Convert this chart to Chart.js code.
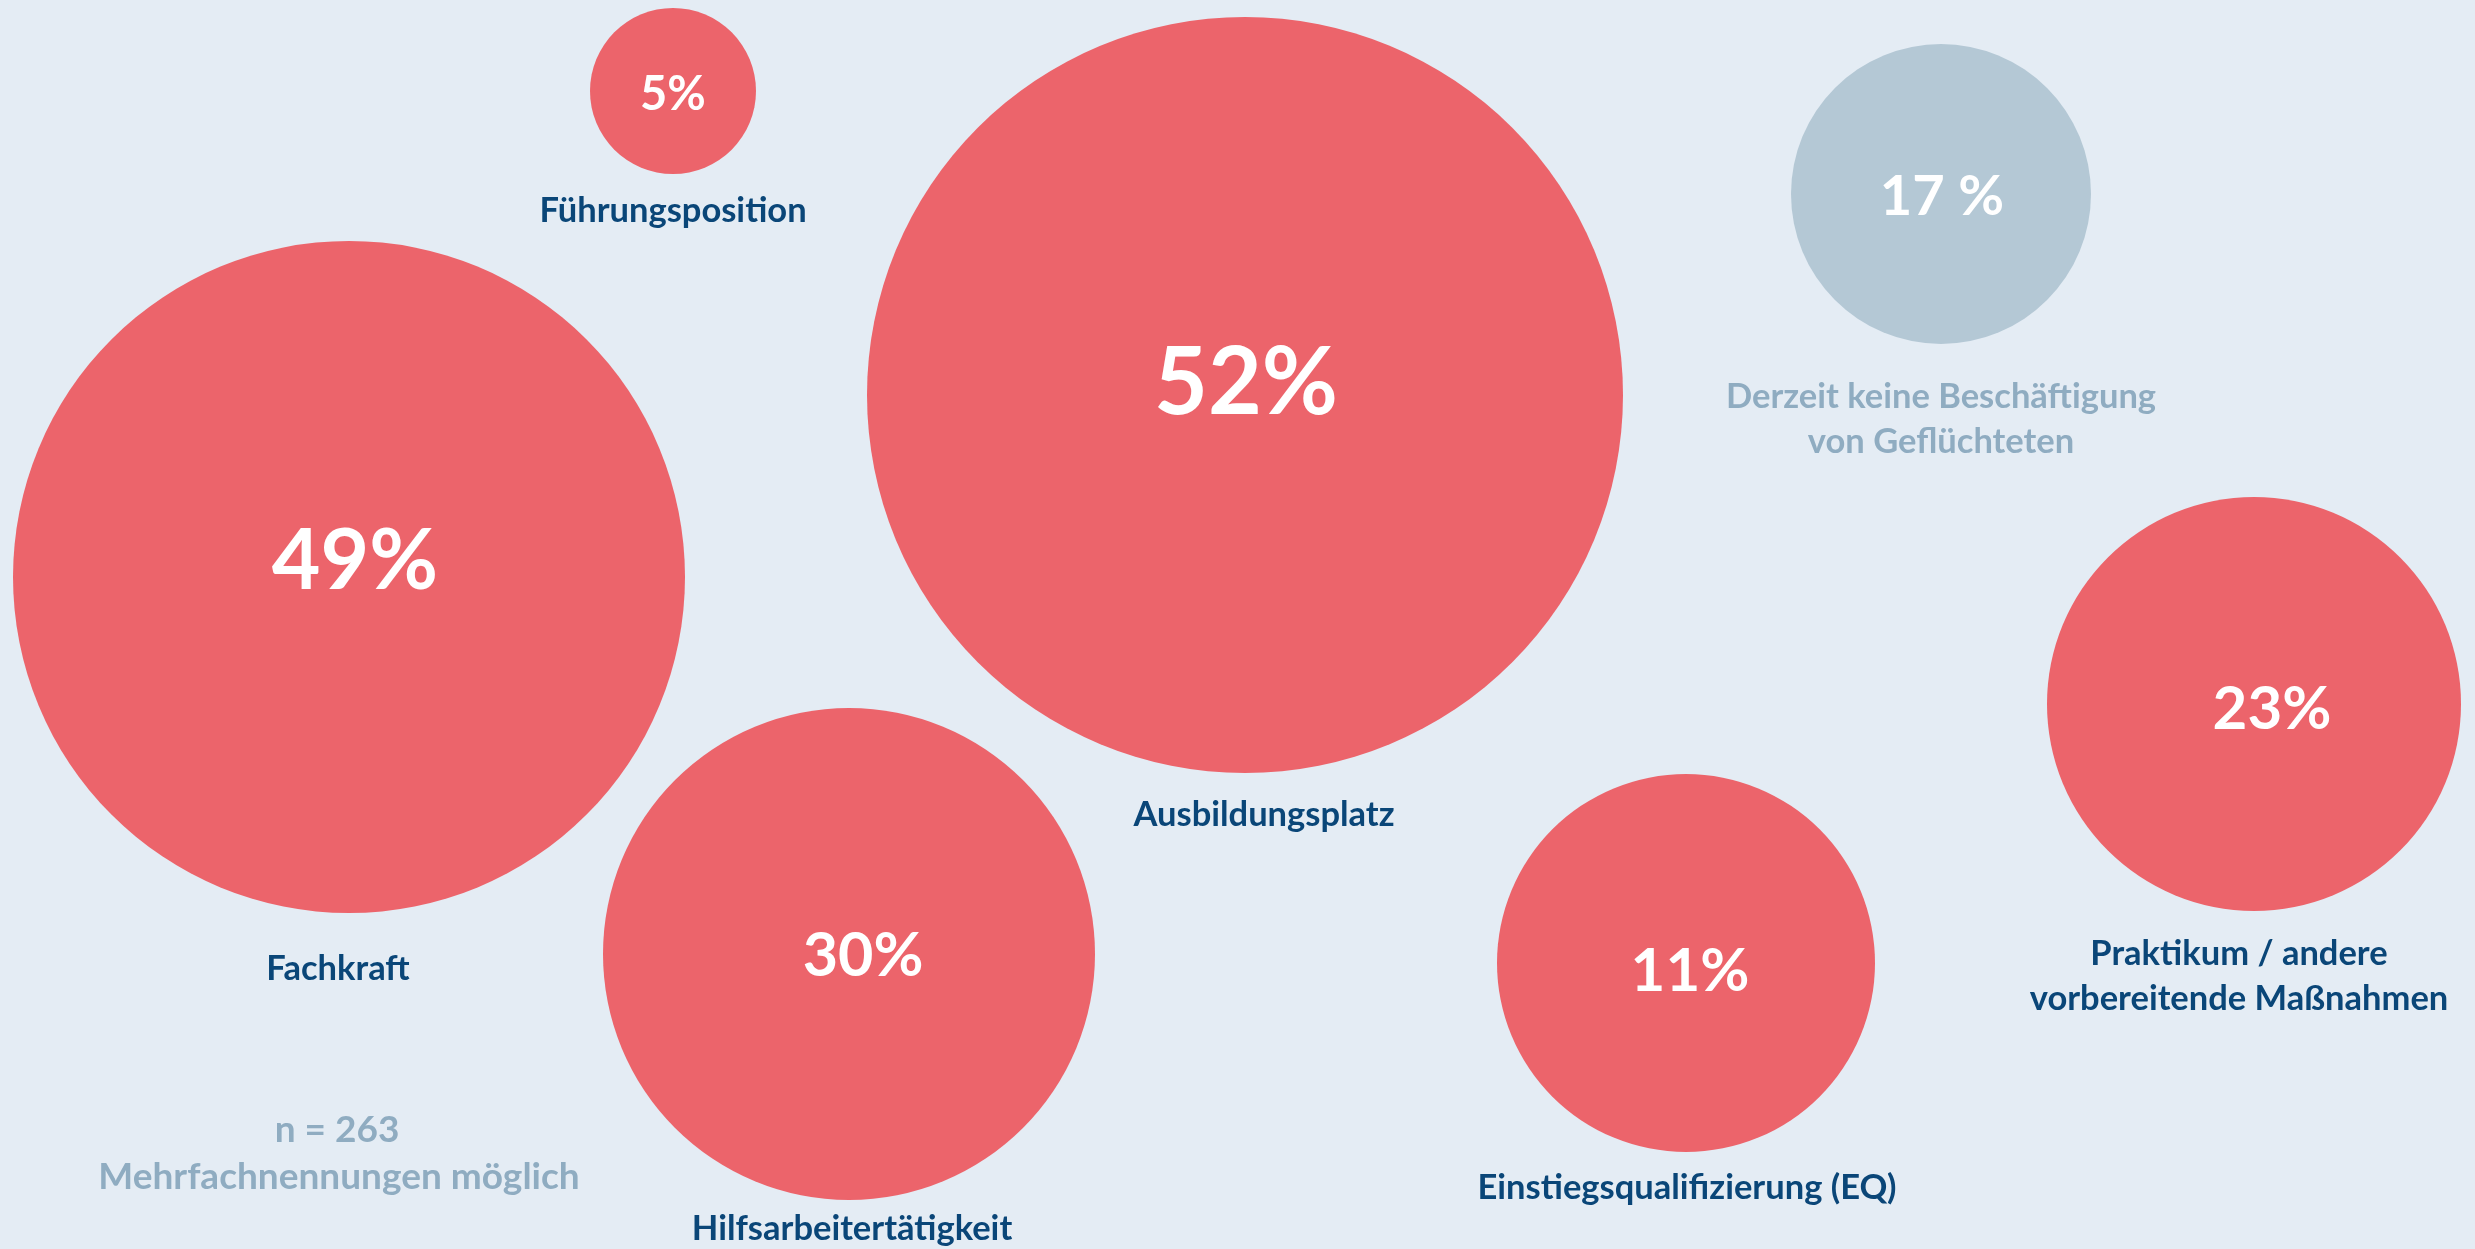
<!DOCTYPE html>
<html>
<head>
<meta charset="utf-8">
<script src="https://cdn.jsdelivr.net/npm/chart.js@4/dist/chart.umd.min.js"></script>
<style>
  html, body { margin: 0; padding: 0; background: #E4ECF4; overflow: hidden; }
  #wrap { width: 2475px; height: 1249px; }
</style>
</head>
<body>
<div id="wrap"><canvas id="c" width="2475" height="1249"></canvas></div>
<script>
// ---- data ----
const categories = [
  ["Führungsposition"],
  ["Ausbildungsplatz"],
  ["Derzeit keine Beschäftigung", "von Geflüchteten"],
  ["Fachkraft"],
  ["Hilfsarbeitertätigkeit"],
  ["Einstiegsqualifizierung (EQ)"],
  ["Praktikum / andere", "vorbereitende Maßnahmen"]
];
const values = [5, 52, 17, 49, 30, 11, 23];
const valueSuffix = ["%", "%", " %", "%", "%", "%", "%"];
// bubble layout in chart units (x: 0–2475, y: 0–1249 from top), bubble size
const bubbleX = [673, 1245, 1941, 349, 849, 1686, 2254];
const bubbleY = [91, 395, 194, 577, 954, 963, 704];
const bubbleSize = [83, 378, 150, 336, 246, 189, 207];
const isNeutral = [false, false, true, false, false, false, false];
const noteLines = ["n = 263", "Mehrfachnennungen möglich"];

// ---- styles ----
const RED = "#EC646B";
const GREY = "#B4C8D5";
const DARK = "#0A4678";
const MUTED = "#8FACC1";
const FONT = "Lato, 'Open Sans', sans-serif";
const pctFont = [47, 93, 56, 84, 61, 60, 60];
const pctOffset = [[0, 2], [1, -14], [1, 1], [6, -18], [14, 0], [4, 6], [18, 3]];
const labelOffset = [[0, 119], [19, 419], [0, 202], [-11, 391], [3, 274], [1, 224], [-15, 249]];
const labelFont = 34.5, labelLineGap = 45;

const textPlugin = {
  id: "bubbleText",
  afterDatasetsDraw(chart) {
    const ctx = chart.ctx;
    const meta = chart.getDatasetMeta(0);
    ctx.save();
    ctx.textAlign = "center";
    ctx.textBaseline = "alphabetic";
    meta.data.forEach((el, i) => {
      const { x, y } = el.getProps(["x", "y"], true);
      const fs = pctFont[i];
      ctx.font = "bold " + fs + "px " + FONT;
      ctx.fillStyle = "#FFFFFF";
      ctx.fillText(values[i] + valueSuffix[i], x + pctOffset[i][0], y + pctOffset[i][1] + fs * 0.717 / 2);
      ctx.font = "bold " + labelFont + "px " + FONT;
      ctx.fillStyle = isNeutral[i] ? MUTED : DARK;
      categories[i].forEach((line, k) => {
        ctx.fillText(line, x + labelOffset[i][0], y + labelOffset[i][1] + k * labelLineGap + labelFont * 0.717 / 2);
      });
    });
    const xs = chart.scales.x, ys = chart.scales.y;
    ctx.fillStyle = MUTED;
    ctx.font = "bold 37px " + FONT;
    ctx.fillText(noteLines[0], xs.getPixelForValue(337), ys.getPixelForValue(1129) + 37 * 0.717 / 2);
    ctx.fillText(noteLines[1], xs.getPixelForValue(339), ys.getPixelForValue(1176) + 37 * 0.717 / 2);
    ctx.restore();
  }
};

const bgPlugin = {
  id: "bg",
  beforeDraw(chart) {
    const ctx = chart.ctx;
    ctx.save();
    ctx.fillStyle = "#E4ECF4";
    ctx.fillRect(0, 0, chart.width, chart.height);
    ctx.restore();
  }
};

new Chart(document.getElementById("c"), {
  type: "bubble",
  data: {
    labels: categories.map(c => c.join(" ")),
    datasets: [{
      data: values.map((v, i) => ({ x: bubbleX[i], y: bubbleY[i], r: bubbleSize[i] })),
      backgroundColor: isNeutral.map(n => n ? GREY : RED),
      borderWidth: 0,
      hoverBorderWidth: 0,
      clip: false
    }]
  },
  options: {
    responsive: false,
    devicePixelRatio: 1,
    animation: false,
    events: [],
    layout: { padding: 0, autoPadding: false },
    plugins: { legend: { display: false }, tooltip: { enabled: false } },
    scales: {
      x: { type: "linear", min: 0, max: 2475, display: false },
      y: { type: "linear", min: 0, max: 1249, reverse: true, display: false }
    }
  },
  plugins: [bgPlugin, textPlugin]
});
</script>
</body>
</html>
